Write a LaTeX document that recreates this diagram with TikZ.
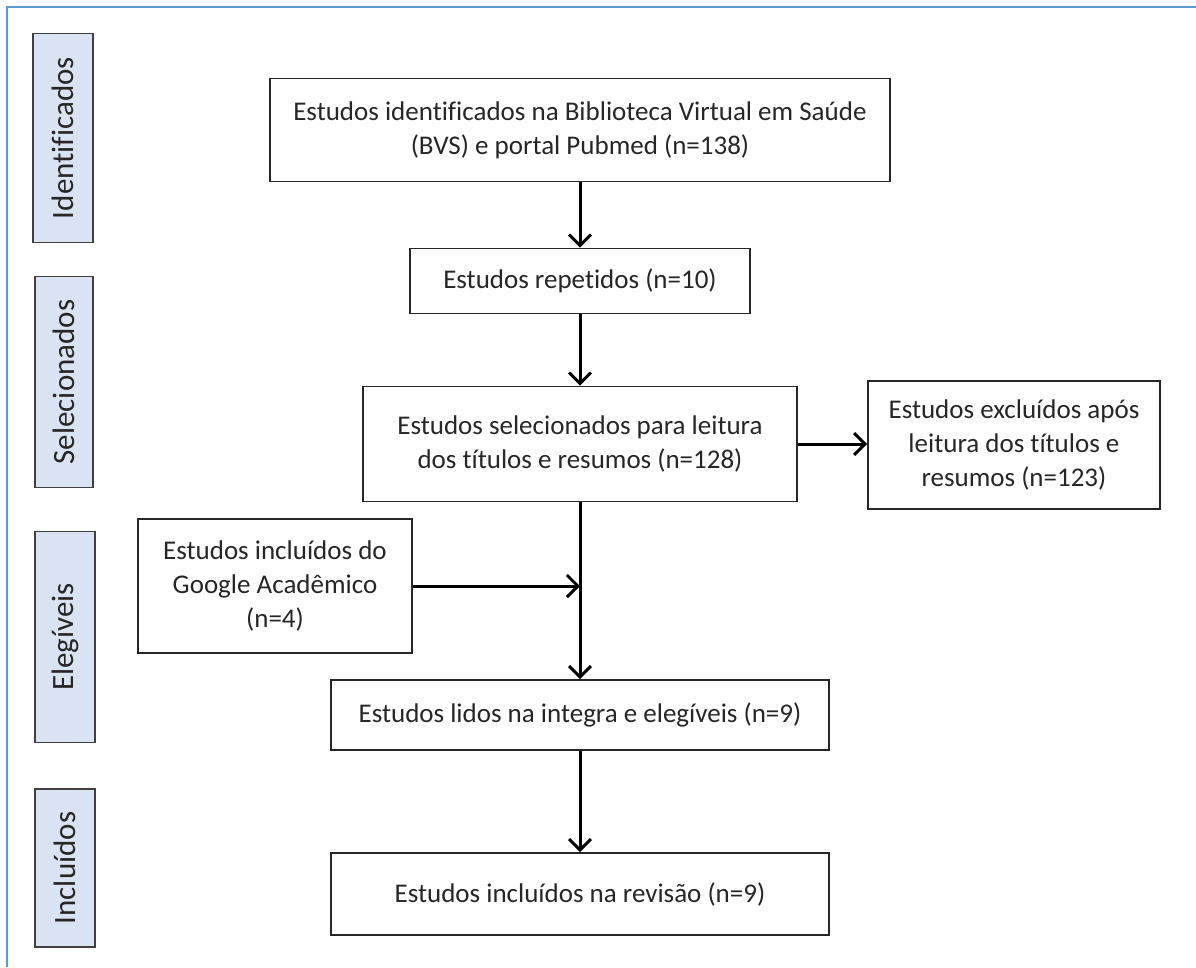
\documentclass[tikz,border=0pt]{standalone}
\usepackage{fontspec}
\setmainfont{Carlito}[Ligatures=NoCommon]
\usetikzlibrary{arrows.meta, positioning}
\definecolor{stagefill}{HTML}{DAE3F3}
\definecolor{framecol}{HTML}{5B9BD5}

\begin{document}
\begin{tikzpicture}[x=1pt, y=-1pt,
	box/.style={draw=black!85, text=black!85, line width=1.6pt, align=center, inner sep=0pt, font=\fontsize{27}{34}\selectfont},
	stage/.style={draw=black!75, fill=stagefill, text=black!85, line width=1.6pt, rotate=90, inner sep=0pt, font=\fontsize{31}{34}\selectfont},
	arr/.style={-{Straight Barb[length=11pt, width=22pt]}, line width=3pt}]
	\useasboundingbox (0,0) rectangle (1196,967);
	\draw[framecol, line width=2.5pt] (7,967) -- (7,7) -- (1196,7);
	% stages on the left
	\node[stage, minimum width=209pt, minimum height=60pt] (sid) at (63,138) {Identificados};
	\node[stage, minimum width=211pt, minimum height=58pt] (ssel) at (64,382) {Selecionados};
	\node[stage, minimum width=211pt, minimum height=60pt] (sel) at (65,637) {Elegíveis};
	\node[stage, minimum width=158pt, minimum height=60pt] (sinc) at (65,868) {Incluídos};
	% flow boxes
	\node[box, minimum width=620pt, minimum height=103pt] (ident) at (580,130) {Estudos identificados na Biblioteca Virtual em Saúde\\(BVS) e portal Pubmed (n=138)};
	\node[box, minimum width=340pt, minimum height=65pt] (rep) at (580,281) {Estudos repetidos (n=10)};
	\node[box, minimum width=434pt, minimum height=115pt] (selec) at (580,444) {Estudos selecionados para leitura\\dos títulos e resumos (n=128)};
	\node[box, minimum width=292pt, minimum height=128pt] (excl) at (1014,445) {Estudos excluídos após\\leitura dos títulos e\\resumos (n=123)};
	\node[box, minimum width=274pt, minimum height=134pt] (goog) at (275,586) {Estudos incluídos do\\Google Acadêmico\\(n=4)};
	\node[box, minimum width=498pt, minimum height=70pt] (lidos) at (580,715) {Estudos lidos na integra e elegíveis (n=9)};
	\node[box, minimum width=498pt, minimum height=82pt] (incl) at (580,894) {Estudos incluídos na revisão (n=9)};
	% arrows
	\draw[arr] (ident) -- (rep);
	\draw[arr] (rep) -- (selec);
	\draw[arr] (selec.east) -- (selec.east -| excl.west);
	\draw[arr] (goog.east) -- (goog.east -| selec.south);
	\draw[arr] (selec) -- (lidos);
	\draw[arr] (lidos) -- (incl);
\end{tikzpicture}
\end{document}
